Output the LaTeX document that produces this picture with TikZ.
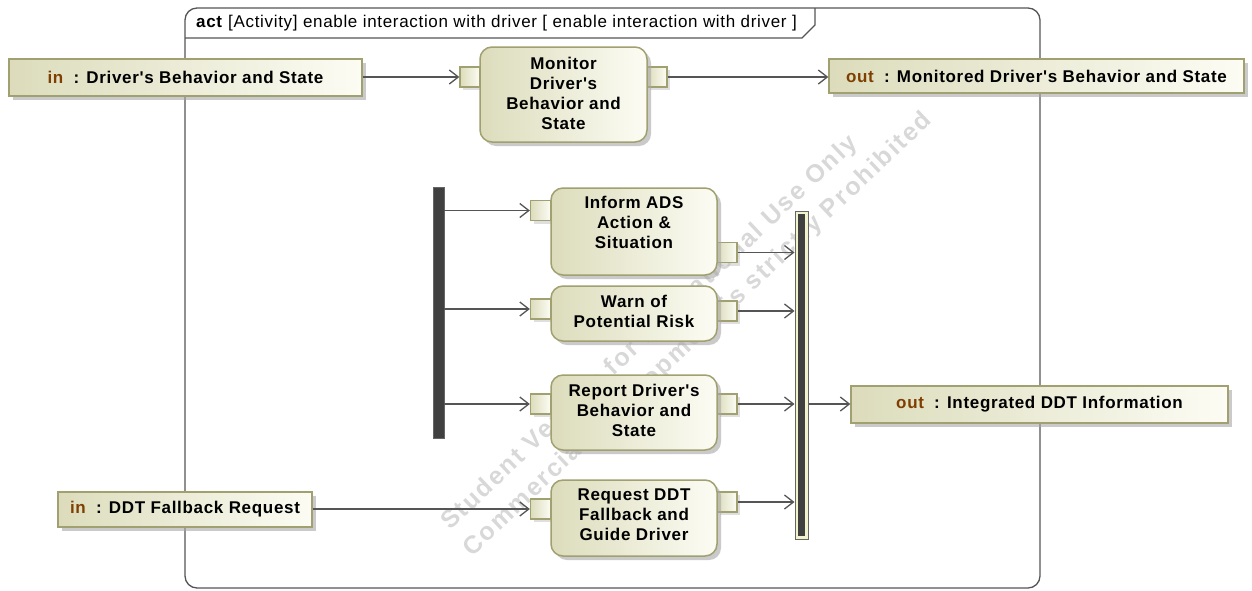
\documentclass[tikz,border=0pt]{standalone}
\usepackage{fontspec}
\setmainfont{Liberation Sans}
\newfontfamily\lblfont[LetterSpace=4]{Liberation Sans}
\newfontfamily\ttlfont[LetterSpace=4]{Liberation Sans}
\newfontfamily\wmfont[LetterSpace=8]{Liberation Sans}
\usetikzlibrary{arrows.meta,shadows}

\definecolor{edgeol}{HTML}{A0A070}
\definecolor{fillL}{HTML}{DCDCBC}
\definecolor{fillR}{HTML}{FCFCF4}
\definecolor{inout}{HTML}{7F3F00}
\definecolor{wire}{HTML}{555555}
\definecolor{barc}{HTML}{404040}
\definecolor{barrim}{HTML}{F2F2CC}
\definecolor{wmark}{HTML}{D8D8D8}

\tikzset{
  shade/.style={drop shadow={shadow xshift=4pt, shadow yshift=-4pt, fill=black!35, opacity=.6}},
  param/.style={rectangle, draw=edgeol, line width=1.3pt, left color=fillL, right color=fillR,
    shade, inner sep=0pt, font=\lblfont\bfseries\fontsize{17}{20}\selectfont},
  action/.style={rectangle, rounded corners=12pt, draw=edgeol, line width=1.5pt,
    left color=fillL, right color=fillR, shade, minimum width=166, inner sep=0pt},
  acttext/.style={align=center, inner sep=0pt, font=\lblfont\bfseries\fontsize{17}{20}\selectfont},
  pinbox/.style={rectangle, draw=edgeol, line width=1.3pt, left color=fillL, right color=fillR,
    drop shadow={shadow xshift=3pt, shadow yshift=-3pt, fill=black!25, opacity=.5},
    minimum width=20, minimum height=20, inner sep=0pt},
  flow/.style={draw=wire, line width=1.3pt, -{Straight Barb[length=9pt, width=14pt, line width=1.3pt]}},
  wmtext/.style={text=wmark, inner sep=0pt, rotate=43.4, font=\wmfont\bfseries\fontsize{25}{30}\selectfont}
}

\begin{document}
\begin{tikzpicture}[x=1pt, y=-1pt]
\useasboundingbox (0,0) rectangle (1252,590);

% watermark behind everything
\node[wmtext] (wm1) at (650,333) {Student Version for Educational Use Only};
\node[wmtext] (wm2) at (698,335) {Commercial Development is strictly Prohibited};

% activity frame with its name tab
\draw[draw=wire, line width=1.3pt, rounded corners=12pt] (185,8) rectangle (1040,588);
\draw[draw=wire, line width=1.3pt] (185,38) -- (802,38) -- (815,25) -- (815,8);
\node[anchor=west, inner sep=0pt, font=\ttlfont\fontsize{17}{20}\selectfont] (title) at (196,23.5)
  {\textbf{act} [Activity] enable interaction with driver [ enable interaction with driver ]};

% activity parameters
\node[param, minimum width=353, minimum height=37] (inDrv) at (185.5,77.5)
  {{\color{inout}in}\hspace{0.6em}: Driver's Behavior and State};
\node[param, minimum width=415, minimum height=34] (outMon) at (1036.5,76)
  {{\color{inout}out}\hspace{0.6em}: Monitored Driver's Behavior and State};
\node[param, minimum width=377, minimum height=37] (outDDT) at (1039.5,404.5)
  {{\color{inout}out}\hspace{0.6em}: Integrated DDT Information};
\node[param, minimum width=254, minimum height=35] (inReq) at (185,509.5)
  {{\color{inout}in}\hspace{0.6em}: DDT Fallback Request};

% pins
\node[pinbox] (monIn)   at (470,77) {};
\node[pinbox] (monOut)  at (657,77) {};
\node[pinbox] (infIn)   at (540.5,210.5) {};
\node[pinbox] (infOut)  at (727,252.5) {};
\node[pinbox] (warnIn)  at (540.5,309) {};
\node[pinbox] (warnOut) at (727,311) {};
\node[pinbox] (repIn)   at (540.5,404) {};
\node[pinbox] (repOut)  at (727,404) {};
\node[pinbox] (reqIn)   at (540.5,509) {};
\node[pinbox] (reqOut)  at (727,502) {};

% actions
\node[action, minimum width=167, minimum height=95] (mon) at (563.5,94.5) {};
\node[acttext] (monT) at ([yshift=1pt]mon.center) {Monitor\\Driver's\\Behavior and\\State};
\node[action, minimum height=87] (inf) at (634,231.5) {};
\node[acttext, anchor=north] (infT) at ([yshift=-9pt]inf.north) {Inform ADS\\Action \&\\Situation};
\node[action, minimum height=55] (warn) at (634,313.5) {};
\node[acttext] (warnT) at ([yshift=2pt]warn.center) {Warn of\\Potential Risk};
\node[action, minimum height=75] (rep) at (634,412.5) {};
\node[acttext] (repT) at ([yshift=2pt]rep.center) {Report Driver's\\Behavior and\\State};
\node[action, minimum height=76] (req) at (634,518) {};
\node[acttext] (reqT) at ([yshift=3pt]req.center) {Request DDT\\Fallback and\\Guide Driver};

% fork and join bars
\node[rectangle, fill=barc, draw=black!60, line width=0.6pt, minimum width=11, minimum height=251, inner sep=0pt]
  (fork) at (438.5,312.5) {};
\node[rectangle, fill=barrim, draw=black!60, line width=1pt, minimum width=13, minimum height=328, inner sep=0pt]
  (join) at (801.5,375) {};
\node[rectangle, fill=barc, minimum width=7, minimum height=322, inner sep=0pt] (joinCore) at (join) {};

% object flows
\draw[flow] (inDrv.east |- monIn) -- (monIn.west);
\draw[flow] (monOut.east) -- (monOut.east -| outMon.west);
\draw[flow] (fork.east |- infIn) -- (infIn.west);
\draw[flow] (fork.east |- warnIn) -- (warnIn.west);
\draw[flow] (fork.east |- repIn) -- (repIn.west);
\draw[flow] (inReq.east |- reqIn) -- (reqIn.west);
\draw[flow] (infOut.east) -- (infOut.east -| join.west);
\draw[flow] (warnOut.east) -- (warnOut.east -| join.west);
\draw[flow] (repOut.east) -- (repOut.east -| join.west);
\draw[flow] (reqOut.east) -- (reqOut.east -| join.west);
\draw[flow] (join.east |- repOut) -- (join.east |- repOut -| outDDT.west);
\end{tikzpicture}
\end{document}
